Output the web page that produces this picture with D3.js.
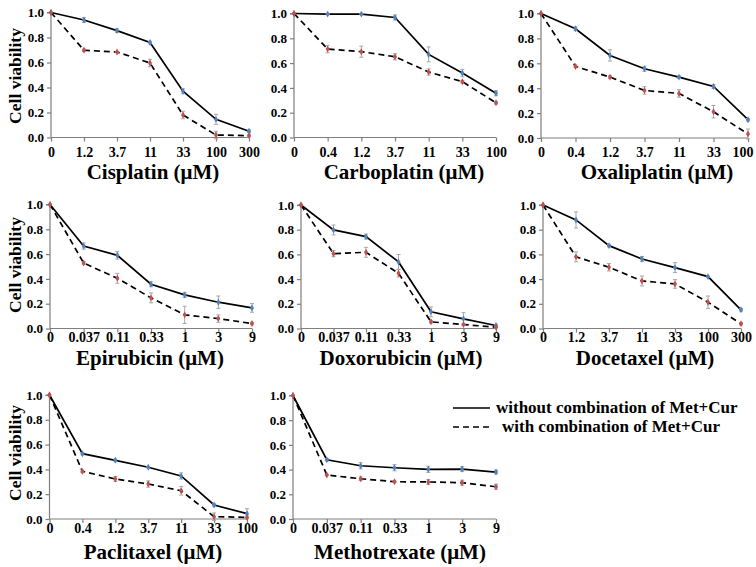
<!DOCTYPE html>
<html><head><meta charset="utf-8">
<script src="https://cdn.jsdelivr.net/npm/d3@7"></script>
<style>body{margin:0;background:#fff}svg{display:block}</style>
</head><body><svg id="c" width="756" height="567"></svg>
<script>
// ---- data ----
const drugs = ["Cisplatin","Carboplatin","Oxaliplatin","Epirubicin","Doxorubicin","Docetaxel","Paclitaxel","Methotrexate"];
const catsCis = ["0","1.2","3.7","11","33","100","300"];
const catsCarbo = ["0","0.4","1.2","3.7","11","33","100"];
const catsEpi = ["0","0.037","0.11","0.33","1","3","9"];
const yTicks = [0,0.2,0.4,0.6,0.8,1.0];
const categories = [catsCis, catsCarbo, catsCarbo, catsEpi, catsEpi, catsCis, catsCarbo, catsEpi];
const without = [
  [1.0,0.94,0.855,0.76,0.37,0.145,0.05],
  [1.0,0.995,0.995,0.968,0.67,0.52,0.357],
  [1.0,0.877,0.663,0.556,0.489,0.414,0.147],
  [1.0,0.665,0.59,0.357,0.271,0.212,0.166],
  [1.0,0.798,0.744,0.539,0.135,0.078,0.024],
  [1.0,0.879,0.671,0.563,0.493,0.42,0.151],
  [1.0,0.527,0.473,0.417,0.347,0.113,0.043],
  [1.0,0.48,0.431,0.415,0.402,0.404,0.38]
];
const withoutErr = [
  [0,0.02,0.015,0.01,0.02,0.04,0.01],
  [0,0.005,0.005,0.02,0.06,0.03,0.02],
  [0,0.015,0.045,0.02,0.01,0.015,0.01],
  [0,0.025,0.03,0.02,0.02,0.05,0.035],
  [0,0.04,0.02,0.06,0.04,0.05,0.01],
  [0,0.065,0.01,0.02,0.04,0.005,0.01],
  [0,0.01,0.01,0.005,0.025,0.01,0.04],
  [0,0.01,0.025,0.025,0.025,0.02,0.015]
];
const combo = [
  [1.0,0.698,0.684,0.596,0.18,0.02,0.015],
  [1.0,0.713,0.692,0.651,0.528,0.45,0.28],
  [1.0,0.575,0.489,0.382,0.358,0.211,0.032],
  [1.0,0.528,0.405,0.247,0.11,0.08,0.04],
  [1.0,0.606,0.617,0.447,0.054,0.032,0.011],
  [1.0,0.58,0.496,0.385,0.361,0.213,0.038],
  [1.0,0.384,0.323,0.282,0.228,0.019,0.013],
  [1.0,0.356,0.326,0.302,0.3,0.294,0.261]
];
const comboErr = [
  [0,0.01,0.005,0.03,0.03,0.03,0.01],
  [0,0.03,0.045,0.025,0.025,0.01,0.01],
  [0,0.01,0.01,0.03,0.03,0.05,0.04],
  [0,0.01,0.04,0.04,0.07,0.03,0.01],
  [0,0.025,0.04,0.03,0.01,0.005,0.005],
  [0,0.04,0.03,0.04,0.035,0.05,0.01],
  [0,0.01,0.02,0.025,0.035,0.03,0.01],
  [0,0.005,0.015,0.005,0.02,0.02,0.02]
];
const legendLabels = ["without combination of Met+Cur","with combination of Met+Cur"];

// ---- layout ----
const FONT = '"Liberation Serif","Times New Roman",Times,"DejaVu Serif",serif';
const layout = [
  {x0:51, x1:249, yT:12.5, yB:137.5, tickB:157, titleX:153, titleB:179, ylab:true, ylabY:76},
  {x0:294, x1:496, yT:13.5, yB:137.5, tickB:157, titleX:404, titleB:179},
  {x0:541, x1:748, yT:13.5, yB:138, tickB:157, titleX:657, titleB:179},
  {x0:50, x1:252, yT:204.5, yB:328.5, tickB:342, titleX:150, titleB:365, ylab:true, ylabY:265},
  {x0:301, x1:496, yT:205, yB:328.5, tickB:342, titleX:401, titleB:365},
  {x0:543, x1:741, yT:205, yB:328.5, tickB:342, titleX:645, titleB:365},
  {x0:49.5, x1:247, yT:395, yB:519, tickB:533, titleX:153, titleB:559, ylab:true, ylabY:453},
  {x0:293, x1:496, yT:395.5, yB:519, tickB:533, titleX:400, titleB:559}
];
const svg = d3.select("#c");
const axisCol = "#7f7f7f", errCol = "#a6a6a6", blue = "#4f81bd", red = "#c0504d";

drugs.forEach((drug, i) => {
  const L = layout[i], cats = categories[i];
  const x = d3.scalePoint().domain(cats).range([L.x0, L.x1]).padding(0);
  const y = d3.scaleLinear().domain([0,1]).range([L.yB, L.yT]);
  const g = svg.append("g");
  // y axis
  const ya = g.append("g").attr("transform",`translate(${L.x0},0)`)
    .call(d3.axisLeft(y).tickValues(yTicks).tickFormat(d3.format(".1f")).tickSize(4).tickPadding(3));
  ya.attr("font-family", FONT).attr("font-weight","bold").attr("font-size", 13);
  ya.select(".domain").attr("stroke",axisCol).attr("stroke-width",1.2).attr("d",`M-4,${L.yT}H0V${L.yB}`);
  ya.selectAll(".tick line").attr("stroke",axisCol).attr("stroke-width",1.2);
  ya.selectAll(".tick text").attr("fill","#000");
  // x axis
  const xa = g.append("g").attr("transform",`translate(0,${L.yB})`)
    .call(d3.axisBottom(x).tickSize(4).tickPadding(0));
  xa.attr("font-family", FONT).attr("font-weight","bold").attr("font-size", 14);
  xa.select(".domain").attr("stroke",axisCol).attr("stroke-width",1.2).attr("d",`M${L.x0},0H${L.x1}`);
  xa.selectAll(".tick line").attr("stroke",axisCol).attr("stroke-width",1.2);
  xa.selectAll(".tick text").attr("fill","#000").attr("dy",null).attr("y", L.tickB - L.yB);
  // keep the last label inside the picture
  xa.selectAll(".tick text").each(function(){
    const b = this.getBBox(), tx = x(d3.select(this.parentNode).datum());
    if (tx + b.x + b.width > 753) d3.select(this).attr("x", 753 - (tx + b.x + b.width));
  });
  // title
  g.append("text").attr("x",L.titleX).attr("y",L.titleB).attr("text-anchor","middle")
    .attr("font-family",FONT).attr("font-weight","bold").attr("font-size",21).text(drug + " (\u03BCM)");
  if (L.ylab) {
    g.append("text").attr("transform",`translate(21,${L.ylabY}) rotate(-90)`).attr("text-anchor","middle")
      .attr("font-family",FONT).attr("font-weight","bold").attr("font-size",17.5).text("Cell viability");
  }
  const series = [
    {vals: without[i], err: withoutErr[i], col: blue, dash: null},
    {vals: combo[i], err: comboErr[i], col: red, dash: "6,4"}
  ];
  const line = d3.line().x((d,j)=>x(cats[j])).y(d=>y(d));
  series.forEach(s => {
    g.append("path").datum(s.vals).attr("d",line).attr("fill","none")
      .attr("stroke","#000").attr("stroke-width",1.7).attr("stroke-dasharray",s.dash);
  });
  series.forEach(s => {
    s.vals.forEach((v,j) => {
      const e = s.err[j];
      if (e > 0) {
        const cx = x(cats[j]);
        g.append("path").attr("d",`M${cx},${y(v+e)}V${y(v-e)}M${cx-2},${y(v+e)}H${cx+2}M${cx-2},${y(v-e)}H${cx+2}`)
          .attr("stroke",errCol).attr("stroke-width",1).attr("fill","none");
      }
    });
  });
  series.forEach(s => {
    g.selectAll(null).data(s.vals).join("path")
      .attr("d", d3.symbol(d3.symbolDiamond, 14))
      .attr("transform",(d,j)=>`translate(${x(cats[j])},${y(d)})`)
      .attr("fill", s.col);
  });
});

// legend
const lg = svg.append("g");
legendLabels.forEach((t,k) => {
  const yy = [408,427][k];
  lg.append("line").attr("x1",453).attr("x2",490).attr("y1",yy).attr("y2",yy)
    .attr("stroke","#000").attr("stroke-width",1.7).attr("stroke-dasharray", k ? "6,4" : null);
  lg.append("text").attr("x", k ? 502 : 496).attr("y", yy+5)
    .attr("font-family",FONT).attr("font-weight","bold").attr("font-size",17).text(t);
});
</script></body></html>
